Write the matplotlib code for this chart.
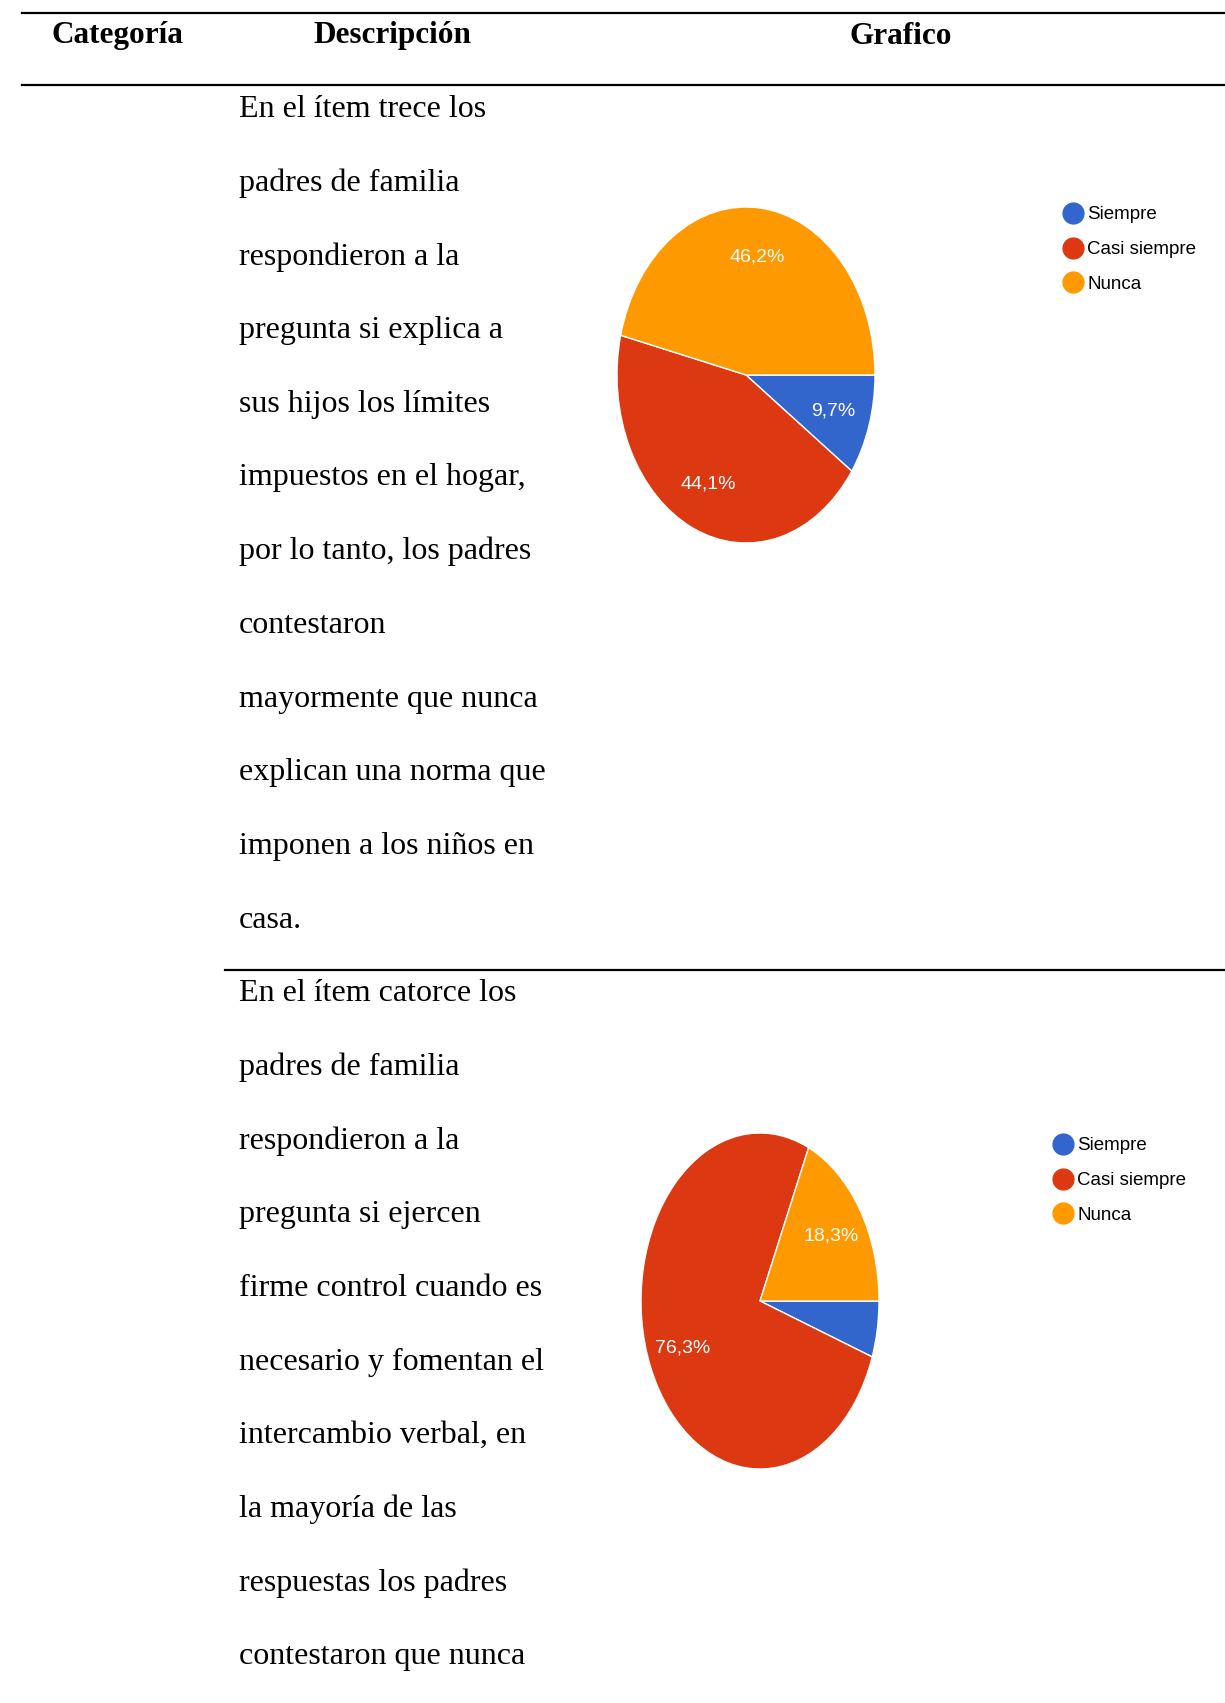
import matplotlib
matplotlib.use("Agg")
import matplotlib.pyplot as plt
from matplotlib.lines import Line2D

W, H = 1225, 1703

# datos
categorias = ["Siempre", "Casi siempre", "Nunca"]
colores = ["#3366CC", "#DC3912", "#FF9900"]
item13 = [9.7, 44.1, 46.2]
item14 = [5.4, 76.3, 18.3]

encabezados = ["Categoría", "Descripción", "Grafico"]
texto13 = [
    "En el ítem trece los",
    "padres de familia",
    "respondieron a la",
    "pregunta si explica a",
    "sus hijos los límites",
    "impuestos en el hogar,",
    "por lo tanto, los padres",
    "contestaron",
    "mayormente que nunca",
    "explican una norma que",
    "imponen a los niños en",
    "casa.",
]
texto14 = [
    "En el ítem catorce los",
    "padres de familia",
    "respondieron a la",
    "pregunta si ejercen",
    "firme control cuando es",
    "necesario y fomentan el",
    "intercambio verbal, en",
    "la mayoría de las",
    "respuestas los padres",
    "contestaron que nunca",
]

sans = "Liberation Sans"
serif = "Liberation Serif"

fig = plt.figure(figsize=(W / 100, H / 100), dpi=100)
bg = fig.add_axes([0, 0, 1, 1])
bg.set_xlim(0, W)
bg.set_ylim(H, 0)
bg.axis("off")

# lineas de la tabla
bg.plot([22, W], [13, 13], color="black", lw=1.6)
bg.plot([22, W], [85, 85], color="black", lw=1.6)
bg.plot([225, W], [970, 970], color="black", lw=1.6)

# encabezados
for txt, x in zip(encabezados, [117, 393, 901]):
    bg.text(x, 36, txt, ha="center", va="center", fontsize=22.5,
            fontweight="bold", family=serif)

# descripciones
paso = 73.7
for bloque, y0 in [(texto13, 109.5), (texto14, 993.5)]:
    for i, linea in enumerate(bloque):
        bg.text(239, y0 + i * paso, linea, ha="left", va="center",
                fontsize=23, family=serif)


def pastel(valores, caja, ley_xy):
    l, t, r, b = caja
    ax = fig.add_axes([l / W, 1 - b / H, (r - l) / W, (b - t) / H])
    fmt = lambda p: ("%.1f%%" % p).replace(".", ",") if p > 6 else ""
    wedges, _, autot = ax.pie(valores, colors=colores, startangle=0,
                              counterclock=False, autopct=fmt,
                              pctdistance=0.71,
                              wedgeprops=dict(edgecolor="white", linewidth=1))
    for a in autot:
        a.set_color("white")
        a.set_fontsize(14)
        a.set_family(sans)
    ax.set_aspect("auto")
    ax.set_xlim(-1, 1)
    ax.set_ylim(-1, 1)
    ax.axis("off")

    handles = [Line2D([], [], marker="o", ls="", markersize=15,
                      markerfacecolor=c, markeredgecolor=c) for c in colores]
    fig.legend(handles, categorias, loc="upper left",
               bbox_to_anchor=(ley_xy[0] / W, 1 - ley_xy[1] / H),
               frameon=False, handletextpad=0.25,
               labelspacing=0.95, borderaxespad=0, borderpad=0,
               handlelength=1.0,
               prop={"family": sans, "size": 13.5})


pastel(item13, (617, 207, 875, 543), (1064, 206))
pastel(item14, (641, 1133, 879, 1469), (1054, 1137))

fig.savefig("out.png", dpi=100)
